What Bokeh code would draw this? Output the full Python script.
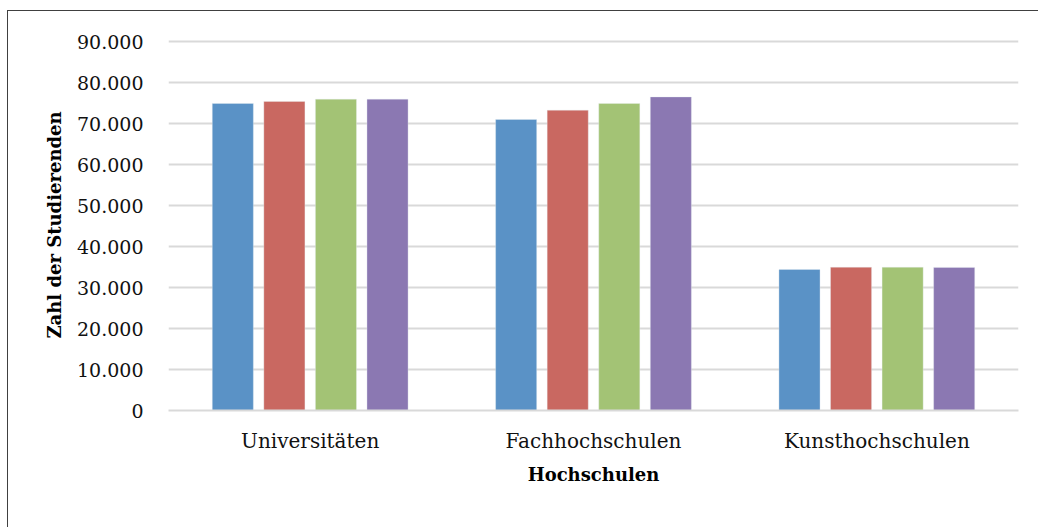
from bokeh.plotting import figure
from bokeh.models import ColumnDataSource, CustomJSTickFormatter, FixedTicker
from bokeh.transform import dodge
from bokeh.embed import file_html
from bokeh.resources import INLINE

categories = ["Universitäten", "Fachhochschulen", "Kunsthochschulen"]
series_names = ["Serie 1", "Serie 2", "Serie 3", "Serie 4"]
serie_1 = [74900, 71000, 34400]
serie_2 = [75400, 73250, 34950]
serie_3 = [75950, 74900, 34950]
serie_4 = [75950, 76500, 34900]
colors = ["#5A92C6", "#C96861", "#A3C375", "#8B78B2"]
y_ticks = [0, 10000, 20000, 30000, 40000, 50000, 60000, 70000, 80000, 90000]

source = ColumnDataSource(data=dict(cat=categories, s1=serie_1, s2=serie_2, s3=serie_3, s4=serie_4))

p = figure(x_range=categories, y_range=(0, 90500), width=1031, height=517,
           min_border_left=161, min_border_right=20, min_border_top=29, min_border_bottom=117,
           output_backend="svg", toolbar_location=None,
           styles={"margin-left": "7px", "margin-top": "10px",
                   "box-shadow": "inset 1px 1px 0 #404040"})

pitch = 0.182
offsets = [-1.5 * pitch, -0.5 * pitch, 0.5 * pitch, 1.5 * pitch]
for col, off, c, name in zip(["s1", "s2", "s3", "s4"], offsets, colors, series_names):
    p.vbar(x=dodge("cat", off, range=p.x_range), top=col, bottom=0, width=0.145,
           source=source, fill_color=c, line_color="#E8EEF5", line_width=0.6, line_alpha=0.6)

p.x_range.range_padding = 0
p.outline_line_color = None
p.background_fill_color = "white"
p.border_fill_color = None

p.xgrid.grid_line_color = None
p.ygrid.grid_line_color = "#D9D9D9"
p.ygrid.grid_line_width = 2

p.yaxis.ticker = FixedTicker(ticks=y_ticks)
p.yaxis.formatter = CustomJSTickFormatter(code="return tick.toLocaleString('de-DE');")
p.yaxis.axis_line_color = None
p.yaxis.major_tick_line_color = None
p.yaxis.minor_tick_line_color = None
p.yaxis.major_label_standoff = 19
p.yaxis.major_label_text_font = "DejaVu Serif"
p.yaxis.major_label_text_font_size = "19px"
p.yaxis.major_label_text_color = "#111111"
p.yaxis.axis_label = "Zahl der Studierenden"
p.yaxis.axis_label_text_font = "DejaVu Serif"
p.yaxis.axis_label_text_font_size = "18px"
p.yaxis.axis_label_text_font_style = "bold"
p.yaxis.axis_label_text_color = "black"
p.yaxis.axis_label_standoff = 9

p.xaxis.axis_line_color = "#D9D9D9"
p.xaxis.axis_line_width = 2
p.xaxis.major_tick_line_color = None
p.xaxis.minor_tick_line_color = None
p.xaxis.major_label_standoff = 12
p.xaxis.major_label_text_font = "DejaVu Serif"
p.xaxis.major_label_text_font_size = "20px"
p.xaxis.major_label_text_color = "#111111"
p.xaxis.axis_label = "Hochschulen"
p.xaxis.axis_label_text_font = "DejaVu Serif"
p.xaxis.axis_label_text_font_size = "18px"
p.xaxis.axis_label_text_font_style = "bold"
p.xaxis.axis_label_text_color = "black"
p.xaxis.axis_label_standoff = 8

open("out.html", "w").write(file_html(p, INLINE))
